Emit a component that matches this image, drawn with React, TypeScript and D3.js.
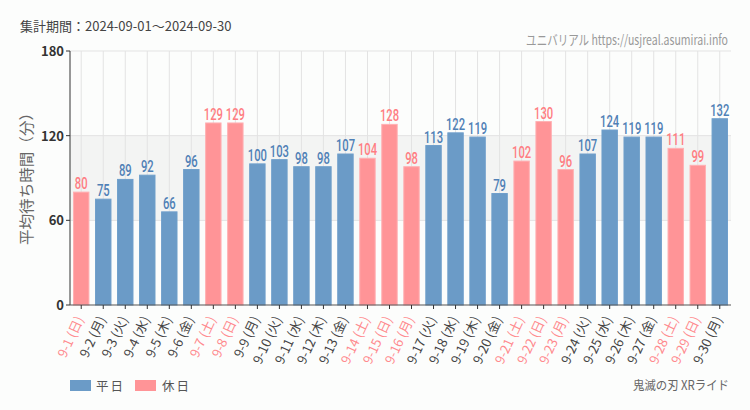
import React from "react";
import * as d3 from "d3";

const dates = ["9-1","9-2","9-3","9-4","9-5","9-6","9-7","9-8","9-9","9-10","9-11","9-12","9-13","9-14","9-15","9-16","9-17","9-18","9-19","9-20","9-21","9-22","9-23","9-24","9-25","9-26","9-27","9-28","9-29","9-30"];
const weekdays = ["日","月","火","水","木","金","土","日","月","火","水","木","金","土","日","月","火","水","木","金","土","日","月","火","水","木","金","土","日","月"];
const holidays = [true,false,false,false,false,false,true,true,false,false,false,false,false,true,true,true,false,false,false,false,true,true,true,false,false,false,false,true,true,false];
const values = [80,75,89,92,66,96,129,129,100,103,98,98,107,104,128,98,113,122,119,79,102,130,96,107,124,119,119,111,99,132];
const yTicks = [0, 60, 120, 180];

const W = 750, H = 410;
const M = { left: 70, right: 731, top: 51, bottom: 305 };

const BLUE = "#6b9bc7";
const PINK = "#ff9497";
const BLUE_T = "#4f80b6";
const PINK_T = "#ff7d82";
const SANS = "'Noto Sans CJK JP', 'Noto Sans', sans-serif";
const LAB = "Roboto, 'Liberation Sans', sans-serif";

export default function App() {
  const x = d3.scaleBand<number>().domain(d3.range(dates.length)).range([M.left, M.right]).paddingInner(0.3).paddingOuter(0.16);
  const y = d3.scaleLinear().domain([0, 180]).range([M.bottom, M.top]);
  const bw = x.bandwidth();
  return (
    <svg width={W} height={H} style={{ position: "absolute", left: 0, top: 0, background: "#fcfdfc" }}>
      <rect x={0} y={0} width={W} height={H} fill="#fcfdfc" />
      <text x={20} y={31} fontFamily={SANS} fontSize={13} fill="#444">集計期間：2024-09-01～2024-09-30</text>
      <text transform="translate(728,45) scale(0.78,1)" textAnchor="end" fontFamily={SANS} fontSize={13.5} fill="#999">ユニバリアル  https://usjreal.asumirai.info</text>
      {/* band */}
      <rect x={M.left} y={y(120)} width={M.right - M.left} height={y(60) - y(120)} fill="#f3f4f3" />
      {/* grid */}
      {yTicks.filter(t => t > 0).map(t => (
        <line key={t} x1={M.left} x2={M.right} y1={y(t)} y2={y(t)} stroke="#e3e3e3" />
      ))}
      {dates.map((_, i) => (
        <line key={i} x1={x(i)! + bw / 2} x2={x(i)! + bw / 2} y1={M.top} y2={M.bottom} stroke="#e3e3e3" />
      ))}
      {/* bars */}
      {values.map((v, i) => (
        <g key={i}>
          <rect x={x(i)!} y={y(v)} width={bw} height={y(0) - y(v)} fill={holidays[i] ? PINK : BLUE} stroke={holidays[i] ? "#ffb0b3" : "#6f9fcb"} strokeWidth={1} />
          <text transform={`translate(${x(i)! + bw / 2},${y(v) - 3}) scale(0.66,1)`} textAnchor="middle" fontFamily={LAB} fontWeight={500} fontSize={17} fill={holidays[i] ? PINK_T : BLUE_T}>{v}</text>
        </g>
      ))}
      {/* axes */}
      <line x1={M.left} x2={M.left} y1={M.top} y2={M.bottom} stroke="#333" />
      <line x1={M.left} x2={M.right} y1={M.bottom} y2={M.bottom} stroke="#555" />
      {yTicks.map(t => (
        <g key={t}>
          <line x1={M.left - 4} x2={M.left} y1={y(t)} y2={y(t)} stroke="#333" />
          <text x={M.left - 6} y={y(t) + 5} textAnchor="end" fontFamily={SANS} fontSize={13} fontWeight={600} fill="#333">{t}</text>
        </g>
      ))}
      {dates.map((d, i) => {
        const cx = x(i)! + bw / 2;
        return (
          <g key={d}>
            <line x1={cx} x2={cx} y1={M.bottom} y2={M.bottom + 4} stroke="#333" />
            <text transform={`translate(${cx + 3},${M.bottom + 14}) rotate(-65)`} textAnchor="end" fontFamily={SANS} fontSize={13} fill={holidays[i] ? "#ff8a8e" : "#444"}>{`${d} (${weekdays[i]})`}</text>
          </g>
        );
      })}
      <text transform={`translate(32,175) rotate(-90)`} textAnchor="middle" fontFamily={SANS} fontSize={15} fill="#666" textLength={140} lengthAdjust="spacingAndGlyphs">平均待ち時間（分）</text>
      {/* legend */}
      <rect x={70} y={380} width={21} height={11} fill={BLUE} />
      <text x={96} y={391} fontFamily={SANS} fontSize={12.5} fill="#555" letterSpacing={2}>平日</text>
      <rect x={135} y={380} width={21} height={11} fill={PINK} />
      <text x={162} y={391} fontFamily={SANS} fontSize={12.5} fill="#555" letterSpacing={2}>休日</text>
      <text x={729} y={390} textAnchor="end" fontFamily={SANS} fontSize={12.5} fill="#666" textLength={96} lengthAdjust="spacingAndGlyphs">鬼滅の刃 XRライド</text>
    </svg>
  );
}
